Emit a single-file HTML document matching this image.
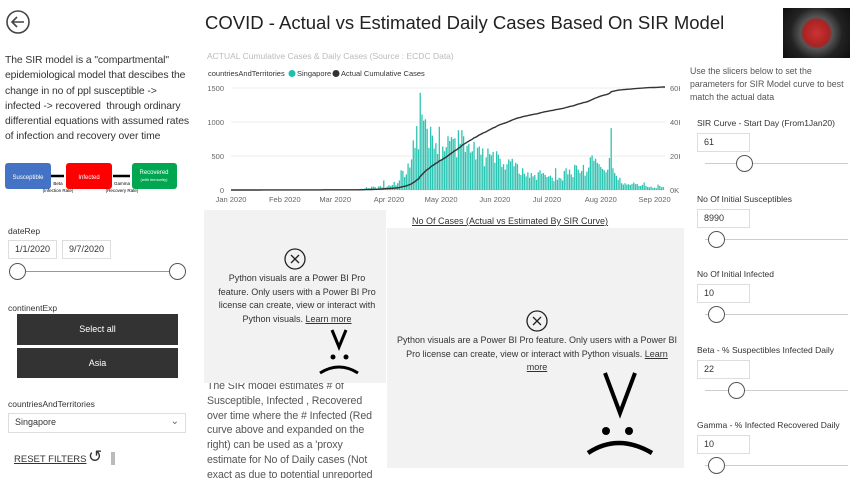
<!DOCTYPE html>
<html><head><meta charset="utf-8"><style>
*{margin:0;padding:0;box-sizing:border-box}
body{width:859px;height:478px;background:#fff;font-family:"Liberation Sans",sans-serif;position:relative;overflow:hidden;color:#333}
.a{position:absolute}
.lbl{font-size:8.5px;color:#333}
.box{border:1px solid #ddd;font-size:9px;padding:3px 6px;color:#333;background:#fff}
.sl{height:1px;background:#ccc}
.knob{width:17px;height:17px;border:1px solid #555;border-radius:50%;background:#fff}
.pm{font-size:9px;color:#333;text-align:center;line-height:13.5px}
.pm u{text-decoration:underline}
</style></head><body>
<svg class="a" style="left:6px;top:10px" width="24" height="24"><circle cx="12" cy="12" r="11" fill="none" stroke="#444" stroke-width="1.6"/><path d="M18 12H6M11 7L6 12L11 17" fill="none" stroke="#444" stroke-width="1.6"/></svg>
<div class="a" style="left:205px;top:12px;font-size:18.5px;color:#222">COVID - Actual vs Estimated Daily Cases Based On SIR Model</div>
<div class="a" style="left:783px;top:8px;width:67px;height:50px;background:radial-gradient(circle at 50% 50%,#c33 0,#a22 13px,#555 16px,#222 26px,#111 40px)"></div>
<div class="a" style="left:5px;top:53px;width:189px;font-size:10.4px;line-height:15.3px;color:#333;letter-spacing:-0.1px">The SIR model is a "compartmental" epidemiological model that descibes the change in no of ppl susceptible -&gt; infected -&gt; recovered &nbsp;through ordinary differential equations with assumed rates of infection and recovery over time</div>
<svg class="a" style="left:0;top:158px" width="190" height="40">
<rect x="5" y="5" width="46" height="26" rx="3" fill="#4472c4"/><text x="28" y="21" font-size="6" fill="#fff" text-anchor="middle">Susceptible</text>
<rect x="66" y="5" width="46" height="26" rx="3" fill="#f00"/><text x="89" y="21" font-size="6" fill="#fff" text-anchor="middle">Infected</text>
<rect x="132" y="5" width="45" height="26" rx="3" fill="#00a650"/><text x="154" y="16" font-size="6" fill="#fff" text-anchor="middle">Recovered</text><text x="154" y="23" font-size="4" fill="#fff" text-anchor="middle">(with immunity)</text>
<path d="M51 18H64M113 18H130" stroke="#000" stroke-width="2.5"/>
<text x="58" y="27" font-size="4.5" text-anchor="middle">Beta</text><text x="58" y="34" font-size="4.5" text-anchor="middle">(Infection Rate)</text>
<text x="122" y="27" font-size="4.5" text-anchor="middle">Gamma</text><text x="122" y="34" font-size="4.5" text-anchor="middle">(Recovery Rate)</text></svg>
<div class="a lbl" style="left:8px;top:226px">dateRep</div>
<div class="a box" style="left:8px;top:240px;width:49px;height:19px">1/1/2020</div>
<div class="a box" style="left:62px;top:240px;width:49px;height:19px">9/7/2020</div>
<div class="a sl" style="left:17px;top:271px;width:160px;background:#999"></div>
<div class="a knob" style="left:9px;top:263px"></div>
<div class="a knob" style="left:169px;top:263px"></div>
<div class="a lbl" style="left:8px;top:303px">continentExp</div>
<div class="a" style="left:17px;top:314px;width:161px;height:31px;background:#333;color:#fff;font-size:9px;text-align:center;line-height:31px">Select all</div>
<div class="a" style="left:17px;top:348px;width:161px;height:30px;background:#333;color:#fff;font-size:9px;text-align:center;line-height:30px">Asia</div>
<div class="a lbl" style="left:8px;top:399px">countriesAndTerritories</div>
<div class="a box" style="left:8px;top:413px;width:178px;height:20px">Singapore<span style="position:absolute;right:6px;top:2px;font-size:10px;color:#666">&#8964;</span></div>
<div class="a" style="left:14px;top:454px;font-size:9.5px;text-decoration:underline;color:#333">RESET FILTERS</div>
<div class="a" style="left:88px;top:447px;font-size:17px;color:#333">&#8634;</div>
<div class="a" style="left:111px;top:452px;width:4px;height:13px;background:#bbb"></div>

<div class="a" style="left:207px;top:51px;font-size:8.5px;color:#bbb">ACTUAL Cumulative Cases &amp; Daily Cases (Source : ECDC Data)</div>
<svg class="a" id="chart" style="left:200px;top:60px" width="480" height="150"></svg>

<div class="a" style="left:207px;top:379px;width:176px;height:99px;overflow:hidden;font-size:10.6px;line-height:14.8px;color:#555;letter-spacing:-0.1px">The SIR model estimates # of Susceptible, Infected , Recovered over time where the # Infected (Red curve above and expanded on the right) can be used as a 'proxy estimate for No of Daily cases (Not exact as due to potential unreported cases )</div>
<div class="a" style="left:204px;top:210px;width:182px;height:173px;background:#f2f2f2"></div>
<svg class="a" style="left:284px;top:248px" width="22" height="22"><circle cx="11" cy="11" r="10" fill="none" stroke="#222" stroke-width="1.3"/><path d="M7 7L15 15M15 7L7 15" stroke="#222" stroke-width="1.3"/></svg>
<div class="a pm" style="left:217px;top:272px;width:160px">Python visuals are a Power BI Pro feature. Only users with a Power BI Pro license can create, view or interact with Python visuals. <u>Learn more</u></div>
<svg class="a" style="left:318px;top:325px" width="50" height="55"><path d="M14 5L21 22L28 5" fill="none" stroke="#000" stroke-width="3"/><circle cx="15" cy="32" r="2.5"/><circle cx="28" cy="32" r="2.5"/><path d="M2 48Q21 36 40 48" fill="none" stroke="#000" stroke-width="3"/></svg>

<div class="a" style="left:412px;top:216px;font-size:9px;text-decoration:underline;color:#333">No Of Cases (Actual vs Estimated By SIR Curve)</div>
<div class="a" style="left:387px;top:228px;width:297px;height:240px;background:#f2f2f2"></div>
<svg class="a" style="left:526px;top:310px" width="22" height="22"><circle cx="11" cy="11" r="10" fill="none" stroke="#222" stroke-width="1.3"/><path d="M7 7L15 15M15 7L7 15" stroke="#222" stroke-width="1.3"/></svg>
<div class="a pm" style="left:396px;top:334px;width:282px">Python visuals are a Power BI Pro feature. Only users with a Power BI Pro license can create, view or interact with Python visuals. <u>Learn more</u></div>
<svg class="a" style="left:585px;top:365px" width="80" height="95"><path d="M20 8L35 48L50 8" fill="none" stroke="#000" stroke-width="4"/><circle cx="21" cy="66" r="4"/><circle cx="44" cy="66" r="4"/><path d="M3 88Q33 68 67 88" fill="none" stroke="#000" stroke-width="4.5"/></svg>

<div class="a" style="left:690px;top:65px;width:165px;font-size:8.8px;line-height:13px;color:#555">Use the slicers below to set the parameters for SIR Model curve to best match the actual data</div>
<div id="slicers"></div>
<script>
// ---- chart data ----
const monthLabels=["Jan 2020","Feb 2020","Mar 2020","Apr 2020","May 2020","Jun 2020","Jul 2020","Aug 2020","Sep 2020"];
const monthStartDay=[0,31,60,91,121,152,182,213,244];
const leftTicks=[0,500,1000,1500];
const rightTicks=["0K","20K","40K","60K"];
const rightTickValues=[0,20000,40000,60000];
const firstBarDay=74;
const dailyCases=[15,20,14,22,40,30,25,48,50,45,20,52,60,40,140,35,
50,70,60,75,120,70,100,140,290,280,
190,230,390,330,450,730,620,940,600,1430,
1110,1020,1040,900,620,930,800,610,690,530,
930,450,640,570,630,790,720,780,750,760,
480,880,680,880,790,560,650,680,550,570,
710,450,620,640,520,610,350,480,610,530,510,
560,400,570,520,460,340,380,300,380,450,
420,460,350,400,380,240,220,320,240,200,
260,180,250,200,220,150,260,290,240,250,
220,190,200,210,180,130,320,150,180,170,
140,280,320,230,300,230,190,370,360,300,
250,280,370,210,270,330,480,510,430,460,400,
380,340,310,290,260,300,470,910,320,250,
210,150,180,100,80,100,80,85,75,90,
110,85,90,60,60,75,110,60,45,40,50,
30,35,25,80,60,40,45];
const cumulativeStart=100;
const totalDays=250;

const svg=document.getElementById('chart');
const NS='http://www.w3.org/2000/svg';
const X0=31,X1=465,Y0=130,Y1=28;
const xs=d=>X0+(X1-X0)*d/totalDays;
const yl=v=>Y0-(Y0-Y1)*v/1500;
const yr=v=>Y0-(Y0-Y1)*v/60000;
function mk(t,a){const e=document.createElementNS(NS,t);for(const k in a)e.setAttribute(k,a[k]);svg.appendChild(e);return e;}
const lg=mk('text',{x:8,y:16,'font-size':7.5,fill:'#333'});lg.textContent='countriesAndTerritories';


const c1=mk('circle',{cx:92,cy:13.5,r:3.5,fill:'#1ebfae'});


const l1=mk('text',{x:97,y:16,'font-size':7.5,fill:'#333'});l1.textContent='Singapore';


const c2=mk('circle',{cx:136,cy:13.5,r:3.5,fill:'#333'});


const l2=mk('text',{x:141,y:16,'font-size':7.5,fill:'#333'});l2.textContent='Actual Cumulative Cases';


leftTicks.forEach(v=>{const g=mk('line',{x1:X0,x2:X1,y1:yl(v),y2:yl(v),stroke:'#eee'});


const t=mk('text',{x:24,y:yl(v)+3,'font-size':7.5,fill:'#666','text-anchor':'end'});t.textContent=v;

});
rightTickValues.forEach((v,i)=>{const t=mk('text',{x:470,y:yr(v)+3,'font-size':7.5,fill:'#666'});t.textContent=rightTicks[i];

});
monthLabels.forEach((m,i)=>{const t=mk('text',{x:xs(monthStartDay[i]),y:142,'font-size':7.5,fill:'#666','text-anchor':'middle'});t.textContent=m;

});
const bw=(X1-X0)/totalDays*0.75;
dailyCases.forEach((v,i)=>{const d=firstBarDay+i;const r=mk('rect',{x:xs(d)-bw/2,y:yl(v),width:bw,height:Y0-yl(v),fill:'#2cc4b2'});

});
let cum=0,pts=[];
for(let d=0;d<=totalDays;d++){const i=d-firstBarDay;if(i>=0&&i<dailyCases.length)cum+=dailyCases[i];pts.push(xs(d).toFixed(1)+','+yr(cum+cumulativeStart*Math.min(1,d/60)).toFixed(1));}
const pl=mk('polyline',{points:pts.join(' '),fill:'none',stroke:'#333','stroke-width':1.4});



// ---- slicers ----
const slicerLabels=["SIR Curve - Start Day (From1Jan20)","No Of Initial Susceptibles","No Of Initial Infected","Beta - % Suspectibles Infected Daily","Gamma - % Infected Recovered Daily"];
const slicerValues=["61","8990","10","22","10"];
const slicerKnobX=[745,717,717,737,717];
const host=document.getElementById('slicers');
slicerLabels.forEach((s,i)=>{const top=118+i*75.5;
const a=document.createElement('div');a.className='a lbl';a.style.cssText=`left:697px;top:${top}px`;a.textContent=s;


host.appendChild(a);
const b=document.createElement('div');b.className='a box';b.style.cssText=`left:697px;top:${top+15}px;width:53px;height:19px`;b.textContent=slicerValues[i];


host.appendChild(b);
const t=document.createElement('div');t.className='a sl';t.style.cssText=`left:705px;top:${top+45}px;width:143px`;


host.appendChild(t);
const k=document.createElement('div');k.className='a knob';k.style.cssText=`left:${slicerKnobX[i]-9}px;top:${top+37}px`;


host.appendChild(k);});
</script>
</body></html>
